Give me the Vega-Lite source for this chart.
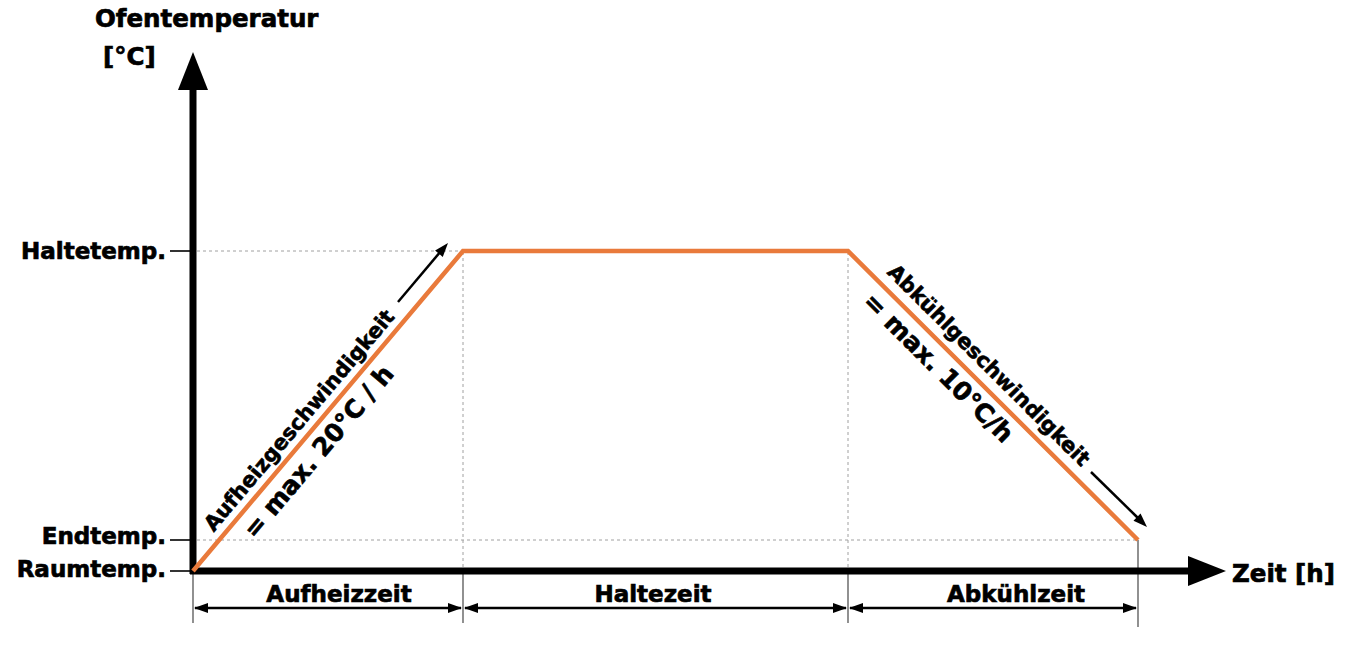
{
  "$schema": "https://vega.github.io/schema/vega-lite/v6.json",
  "width": 1356,
  "height": 648,
  "autosize": {"type": "fit", "contains": "padding"},
  "padding": 0,
  "background": "white",
  "config": {"view": {"stroke": null}, "font": "DejaVu Sans"},
  "datasets": {
    "profile": [
      {"x": 0, "y": 0},
      {"x": 270, "y": 320},
      {"x": 655, "y": 320},
      {"x": 945, "y": 31}
    ],
    "guides": [
      {"x": 4, "y": 320, "x2": 270, "y2": 320},
      {"x": 4, "y": 31, "x2": 945, "y2": 31},
      {"x": 270, "y": 4, "x2": 270, "y2": 320},
      {"x": 655, "y": 4, "x2": 655, "y2": 320}
    ],
    "extents": [
      {"x": 0, "y": -52, "x2": 0, "y2": 0},
      {"x": 270, "y": -52, "x2": 270, "y2": 0},
      {"x": 655, "y": -52, "x2": 655, "y2": 0},
      {"x": 945, "y": -56, "x2": 945, "y2": 31}
    ],
    "ticks": [
      {"x": -23, "y": 320, "x2": -3, "y2": 320},
      {"x": -23, "y": 31, "x2": -3, "y2": 31},
      {"x": -23, "y": 0, "x2": -3, "y2": 0}
    ],
    "axes": [
      {"x": 0, "y": -3, "x2": 0, "y2": 486},
      {"x": -3, "y": 0, "x2": 997, "y2": 0}
    ],
    "dims": [
      {"x": 2, "y": -37, "x2": 268, "y2": -37},
      {"x": 272, "y": -37, "x2": 653, "y2": -37},
      {"x": 657, "y": -37, "x2": 943, "y2": -37}
    ],
    "shafts": [
      {"x": 205, "y": 269, "x2": 248, "y2": 320},
      {"x": 898, "y": 99, "x2": 945, "y2": 53}
    ],
    "bigheads": [
      {"x": 0, "y": 519, "dir": 0},
      {"x": 1033, "y": 0, "dir": 90}
    ],
    "smallheads": [
      {"x": 1, "y": -37, "dir": 270},
      {"x": 269, "y": -37, "dir": 90},
      {"x": 271, "y": -37, "dir": 270},
      {"x": 654, "y": -37, "dir": 90},
      {"x": 656, "y": -37, "dir": 270},
      {"x": 944, "y": -37, "dir": 90},
      {"x": 255, "y": 328, "dir": 40.3},
      {"x": 954, "y": 44, "dir": 134.5}
    ],
    "levels": [
      {"x": -27, "y": 312, "label": "Haltetemp."},
      {"x": -27, "y": 27, "label": "Endtemp."},
      {"x": -27, "y": -6, "label": "Raumtemp."}
    ],
    "titles": [
      {"x": -98, "y": 544, "label": "Ofentemperatur"},
      {"x": -90, "y": 506, "label": "[°C]"},
      {"x": 1039, "y": -11, "label": "Zeit [h]"}
    ],
    "phases": [
      {"x": 146, "y": -31, "label": "Aufheizzeit"},
      {"x": 460, "y": -31, "label": "Haltezeit"},
      {"x": 823, "y": -31, "label": "Abkühlzeit"}
    ],
    "ratenames": [
      {"x": 107, "y": 150, "label": "Aufheizgeschwindigkeit", "dir": -49.8},
      {"x": 795, "y": 205, "label": "Abkühlgeschwindigkeit", "dir": 44.9}
    ],
    "ratevalues": [
      {"x": 126, "y": 119, "label": "= max. 20°C / h", "dir": -49.8},
      {"x": 745, "y": 203, "label": "= max. 10°C/h", "dir": 44.9}
    ]
  },
  "encoding": {
    "x": {"field": "x", "type": "quantitative", "scale": {"domain": [-193, 1163], "nice": false, "zero": false}, "axis": null},
    "y": {"field": "y", "type": "quantitative", "scale": {"domain": [-77, 571], "nice": false, "zero": false}, "axis": null}
  },
  "layer": [
    {
      "data": {"name": "guides"},
      "mark": {"type": "rule", "color": "#a0a0a0", "strokeWidth": 1, "strokeDash": [3, 3]},
      "encoding": {"x2": {"field": "x2"}, "y2": {"field": "y2"}}
    },
    {
      "data": {"name": "extents"},
      "mark": {"type": "rule", "color": "#555555", "strokeWidth": 1.3},
      "encoding": {"x2": {"field": "x2"}, "y2": {"field": "y2"}}
    },
    {
      "data": {"name": "ticks"},
      "mark": {"type": "rule", "color": "#000000", "strokeWidth": 1.6},
      "encoding": {"x2": {"field": "x2"}, "y2": {"field": "y2"}}
    },
    {
      "data": {"name": "axes"},
      "mark": {"type": "rule", "color": "#000000", "strokeWidth": 7, "strokeCap": "butt"},
      "encoding": {"x2": {"field": "x2"}, "y2": {"field": "y2"}}
    },
    {
      "data": {"name": "profile"},
      "mark": {"type": "line", "color": "#E97A3B", "strokeWidth": 4.5, "strokeJoin": "miter"},
      "encoding": {"order": {"field": "x", "type": "quantitative"}}
    },
    {
      "data": {"name": "dims"},
      "mark": {"type": "rule", "color": "#000000", "strokeWidth": 2.5},
      "encoding": {"x2": {"field": "x2"}, "y2": {"field": "y2"}}
    },
    {
      "data": {"name": "shafts"},
      "mark": {"type": "rule", "color": "#000000", "strokeWidth": 2.5},
      "encoding": {"x2": {"field": "x2"}, "y2": {"field": "y2"}}
    },
    {
      "data": {"name": "bigheads"},
      "mark": {"type": "point", "shape": "M0,0L0.79,2L-0.79,2Z", "size": 1444, "filled": true, "color": "#000000", "opacity": 1, "strokeWidth": 0},
      "encoding": {"angle": {"field": "dir", "type": "quantitative", "scale": null}}
    },
    {
      "data": {"name": "smallheads"},
      "mark": {"type": "point", "shape": "M0,0L0.72,2L-0.72,2Z", "size": 196, "filled": true, "color": "#000000", "opacity": 1, "strokeWidth": 0},
      "encoding": {"angle": {"field": "dir", "type": "quantitative", "scale": null}}
    },
    {
      "data": {"name": "levels"},
      "mark": {"type": "text", "align": "right", "baseline": "alphabetic", "fontSize": 23, "fontWeight": "bold", "font": "DejaVu Sans", "color": "#000000", "stroke": "#000000", "strokeWidth": 0.7},
      "encoding": {"text": {"field": "label"}}
    },
    {
      "data": {"name": "titles"},
      "mark": {"type": "text", "align": "left", "baseline": "alphabetic", "fontSize": 24.5, "fontWeight": "bold", "font": "DejaVu Sans", "color": "#000000", "stroke": "#000000", "strokeWidth": 0.7},
      "encoding": {"text": {"field": "label"}}
    },
    {
      "data": {"name": "phases"},
      "mark": {"type": "text", "align": "center", "baseline": "alphabetic", "fontSize": 23, "fontWeight": "bold", "font": "DejaVu Sans", "color": "#000000", "stroke": "#000000", "strokeWidth": 0.7},
      "encoding": {"text": {"field": "label"}}
    },
    {
      "data": {"name": "ratenames"},
      "mark": {"type": "text", "align": "center", "baseline": "middle", "fontSize": 21, "fontWeight": "bold", "font": "DejaVu Sans", "color": "#000000", "stroke": "#000000", "strokeWidth": 0.6},
      "encoding": {"text": {"field": "label"}, "angle": {"field": "dir", "type": "quantitative", "scale": null}}
    },
    {
      "data": {"name": "ratevalues"},
      "mark": {"type": "text", "align": "center", "baseline": "middle", "fontSize": 25, "fontWeight": "bold", "font": "DejaVu Sans", "color": "#000000", "stroke": "#000000", "strokeWidth": 0.7},
      "encoding": {"text": {"field": "label"}, "angle": {"field": "dir", "type": "quantitative", "scale": null}}
    }
  ]
}
